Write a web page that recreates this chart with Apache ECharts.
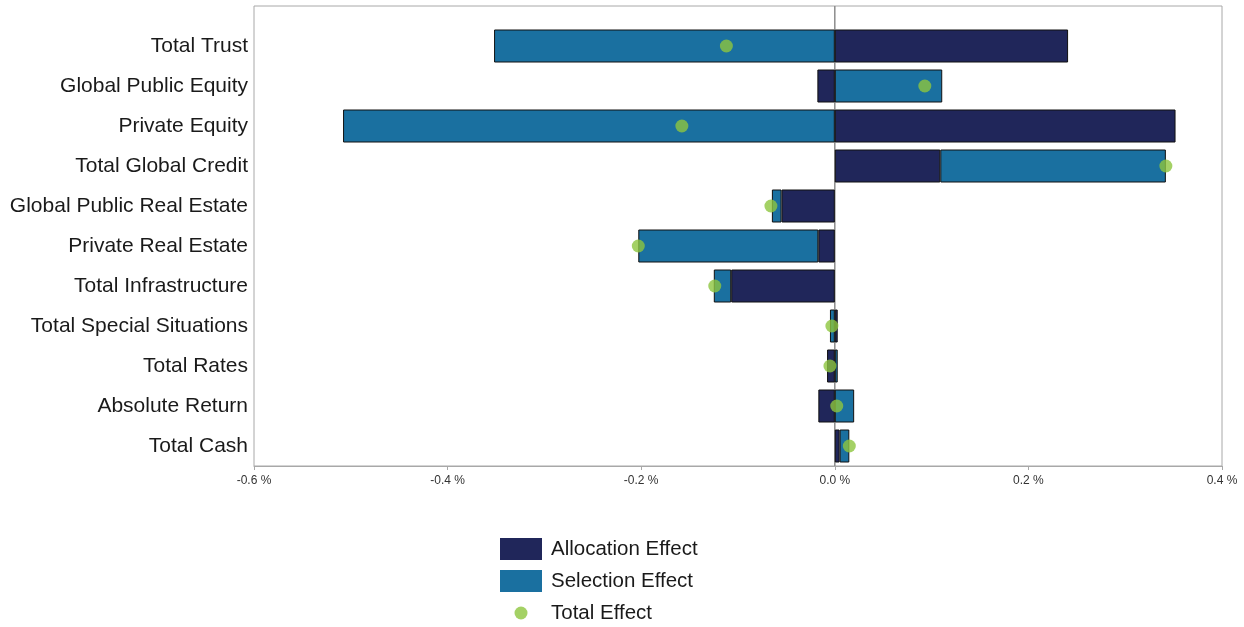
<!DOCTYPE html>
<html>
<head>
<meta charset="utf-8">
<script src="https://cdn.jsdelivr.net/npm/echarts@6/dist/echarts.min.js"></script>
<style>
	html, body { margin: 0; padding: 0; background: #fff; }
	#chart { width: 1244px; height: 627px; }
</style>
</head>
<body>
<div id="chart"></div>
<script>
// values in percent
const categories = ['Total Trust', 'Global Public Equity', 'Private Equity', 'Total Global Credit',
	'Global Public Real Estate', 'Private Real Estate', 'Total Infrastructure',
	'Total Special Situations', 'Total Rates', 'Absolute Return', 'Total Cash'];
const allocation = [0.241, -0.018, 0.352, 0.109, -0.055, -0.017, -0.107, 0.003, -0.008, -0.017, 0.005];
const selection = [-0.352, 0.111, -0.508, 0.233, -0.010, -0.186, -0.018, -0.005, 0.003, 0.020, 0.010];
const total = [-0.112, 0.093, -0.158, 0.342, -0.066, -0.203, -0.124, -0.003, -0.005, 0.002, 0.015];
const xTicks = { min: -0.6, max: 0.4, interval: 0.2 };
const zeroLine = [[0, 0], [0, 1]];

const FONT = 'Liberation Sans, Arial, sans-serif';
const chart = echarts.init(document.getElementById('chart'));

function getOption() {
	return {
		animation: false,
		textStyle: { fontFamily: FONT },
		grid: [{
			left: 254, right: 22, top: 26, height: 440
		}, {
			left: 254, right: 22, top: 6, height: 460,
			show: true, borderColor: '#a8a8a8', borderWidth: 1, backgroundColor: 'transparent'
		}],
		xAxis: [{
			gridIndex: 0,
			type: 'value',
			min: xTicks.min,
			max: xTicks.max,
			interval: xTicks.interval,
			axisLine: { show: true, lineStyle: { color: '#a8a8a8' } },
			axisTick: { show: true, length: 4, lineStyle: { color: '#a8a8a8' } },
			splitLine: { show: false },
			axisLabel: {
				fontSize: 12, color: '#333', margin: 9,
				formatter: (v) => v.toFixed(1) + ' %'
			}
		}, {
			gridIndex: 1,
			type: 'value',
			min: xTicks.min,
			max: xTicks.max,
			show: false
		}],
		yAxis: [{
			gridIndex: 0,
			type: 'category',
			inverse: true,
			data: categories,
			axisLine: { show: false },
			axisTick: { show: false },
			axisLabel: { fontSize: 21, color: '#1a1a1a', margin: 6 }
		}, {
			gridIndex: 1,
			type: 'value',
			min: 0,
			max: 1,
			show: false
		}],
		legend: {
			orient: 'vertical',
			left: 500,
			top: 538,
			height: 89,
			padding: 0,
			itemWidth: 42,
			itemHeight: 22,
			itemGap: 10,
			itemStyle: { borderWidth: 0 },
			textStyle: { fontSize: 20.5, color: '#1a1a1a', lineHeight: 22, padding: [0, 0, 0, 4] },
			data: [
				{ name: 'Allocation Effect', icon: 'rect' },
				{ name: 'Selection Effect', icon: 'rect' },
				{ name: 'Total Effect', icon: 'path://M0,0M42,22M27.5,11A6.5,6.5,0,1,1,14.5,11A6.5,6.5,0,1,1,27.5,11Z' }
			]
		},
		series: [{
			name: 'zero',
			type: 'line',
			xAxisIndex: 1,
			yAxisIndex: 1,
			data: zeroLine,
			symbol: 'none',
			silent: true,
			z: 1,
			lineStyle: { color: '#8c8c8c', width: 1.5 }
		}, {
			name: 'Allocation Effect',
			type: 'bar',
			stack: 'effect',
			barWidth: 33,
			data: allocation,
			z: 3,
			itemStyle: { color: '#20265a', borderColor: '#111', borderWidth: 1 }
		}, {
			name: 'Selection Effect',
			type: 'bar',
			stack: 'effect',
			barWidth: 33,
			data: selection,
			z: 3,
			itemStyle: { color: '#1a70a0', borderColor: '#111', borderWidth: 1 }
		}, {
			name: 'Total Effect',
			type: 'scatter',
			data: total.map((v, i) => [v, categories[i]]),
			symbolSize: 13,
			z: 5,
			itemStyle: { color: '#8dc63f' }
		}]
	};
}

chart.setOption(getOption());
</script>
</body>
</html>
